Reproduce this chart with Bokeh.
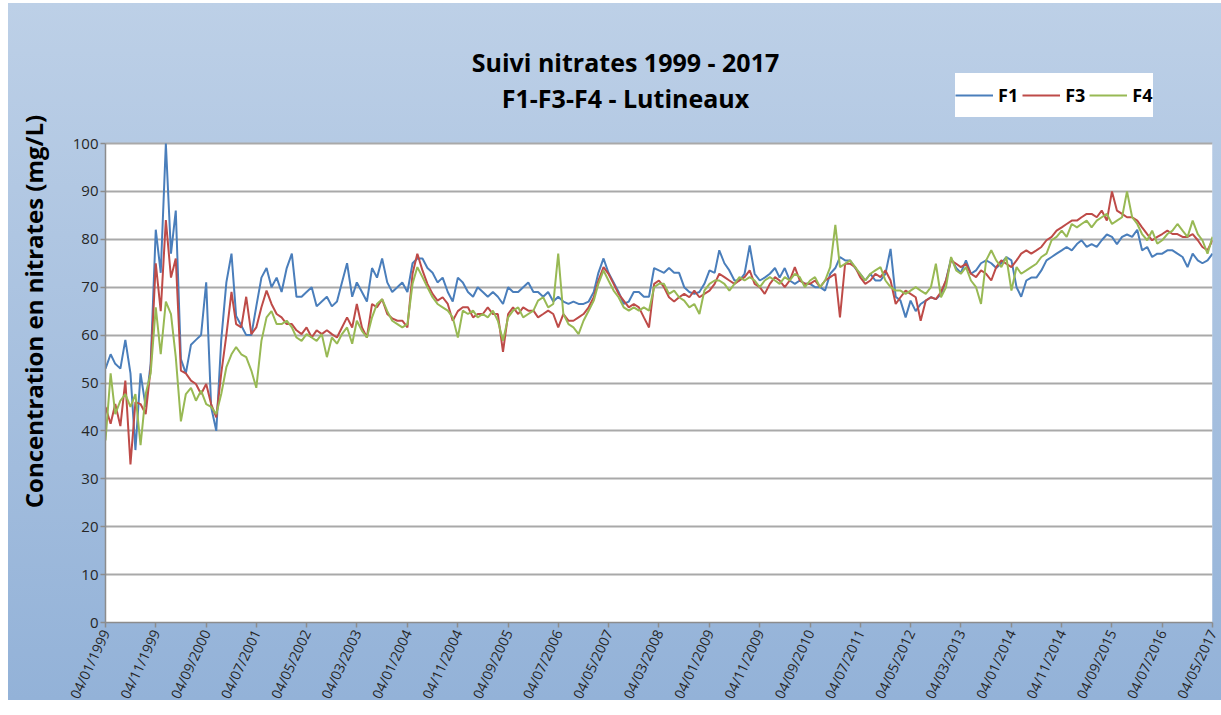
from datetime import datetime

from bokeh.plotting import figure
from bokeh.models import (ColumnDataSource, FixedTicker, DatetimeTickFormatter, Range1d,
                          Label, Legend, LegendItem, BoxAnnotation)
from bokeh.embed import file_html
from bokeh.resources import INLINE

# ---------------- data (monthly readings, Jan 1999 .. May 2017) ----------------
start_month = "04/01/1999"
tick_labels = ["04/01/1999", "04/11/1999", "04/09/2000", "04/07/2001", "04/05/2002",
               "04/03/2003", "04/01/2004", "04/11/2004", "04/09/2005", "04/07/2006",
               "04/05/2007", "04/03/2008", "04/01/2009", "04/11/2009", "04/09/2010",
               "04/07/2011", "04/05/2012", "04/03/2013", "04/01/2014", "04/11/2014",
               "04/09/2015", "04/07/2016", "04/05/2017"]
y_ticks = [0, 10, 20, 30, 40, 50, 60, 70, 80, 90, 100]

f1 = [53, 56, 54, 53, 59, 52, 36, 52, 45, 54, 82, 73,
      100, 77, 86, 55, 52, 58, 59, 60, 71, 45, 40, 59,
      71, 77, 64, 62, 60, 60, 66, 72, 74, 70, 72, 69,
      74, 77, 68, 68, 69, 70, 66, 67, 68, 66, 67, 71,
      75, 68, 71, 69, 67, 74, 72, 76, 71, 69, 70, 71,
      69, 75, 76, 76, 74, 73, 71, 72, 69, 67, 72, 71,
      69, 68, 70, 69, 68, 69, 68, 66.5, 70, 69, 69, 70,
      71, 69, 69, 68, 69, 67, 68, 67, 66.5, 67, 66.5, 66.5,
      67, 69, 73, 76, 73, 71, 69, 66.5, 67, 69, 69, 68,
      68, 74, 73.5, 73, 74, 73, 73, 70, 69, 68.6, 69, 70.7,
      73.5, 73, 77.7, 75, 73.5, 71.4, 71.4, 72.8, 78.7, 72.8, 71.4, 72,
      72.8, 74, 72, 74, 71.4, 70.7, 71.4, 70.7, 70.7, 70, 70, 69.3,
      72.8, 74, 76.3, 75.6, 75.6, 74, 72.8, 71.4, 72.8, 71.4, 71.4, 72.8,
      78, 68, 67.2, 63.7, 67.2, 65, 66.5, 67.2, 67.9, 67.5, 68.5, 71.4,
      76, 74, 73, 75.6, 72.8, 73.5, 75, 75.6, 75, 74, 75, 76.3,
      75.6, 70, 68, 71.4, 72, 72, 73.5, 75.6, 76.3, 77, 77.7, 78.4,
      77.7, 79, 79.8, 78.4, 79, 78.4, 79.8, 81, 80.5, 79, 80.5, 81,
      80.5, 82, 77.7, 78.4, 76.3, 77, 77, 77.7, 77.7, 77, 76.3, 74.2,
      77, 75.6, 75, 75.6, 77]

f3 = [45, 41.5, 45.6, 41, 50.5, 33, 46, 45.6, 43.5, 53, 75, 65,
      84, 72, 76, 52.6, 52, 50.5, 49.8, 47.7, 49.8, 45.6, 42.8, 52,
      60, 69, 62.3, 61.6, 68, 60.2, 61.6, 65.8, 69.3, 66.5, 64.4, 63.7,
      62.3, 62.3, 61, 60.2, 61.6, 59.5, 61, 60.2, 61, 60.2, 59.5, 61.6,
      63.7, 61.6, 66.5, 61.6, 59.5, 66.5, 65.8, 67.5, 64.4, 63.5, 63, 63,
      61.6, 72.8, 77, 73.5, 70.7, 68.6, 67.2, 67.9, 66.5, 63, 65, 65.8,
      65.8, 63.7, 64.4, 64.4, 65.8, 64.4, 64.4, 56.5, 64.4, 65.8, 64.4, 65.8,
      65.1, 65.1, 63.7, 64.4, 65.1, 64.4, 61.6, 64.4, 63, 63, 63.7, 64.4,
      65.8, 67.9, 71.4, 74.2, 72.8, 70.7, 68.6, 67.2, 65.8, 66.5, 65.8, 63.7,
      61.6, 70.7, 71.4, 70, 67.9, 67, 67.9, 68.6, 67.9, 69.3, 67.9, 68.6,
      69.3, 70.7, 72.8, 72.1, 71.4, 70.7, 71.4, 72.1, 73.5, 70.7, 70, 68.6,
      70.7, 72.1, 71.4, 70, 71.4, 74.2, 71.4, 70.7, 70.7, 71.4, 70, 71.4,
      72.1, 72.8, 63.7, 74.9, 74.9, 74.2, 72.1, 70.7, 71.4, 72.8, 72.1, 73.5,
      71.4, 66.5, 67.9, 69.3, 68.6, 67.9, 63, 67.2, 67.9, 67.5, 69, 71.4,
      75.6, 74.9, 74.2, 74.9, 72.8, 72.1, 73.5, 72.8, 71.4, 74.2, 75.6, 74.9,
      74.2, 75.6, 77, 77.7, 77, 77.7, 78.4, 79.8, 80.5, 81.8, 82.5, 83.2,
      83.9, 83.9, 84.6, 85.3, 85.3, 84.6, 86, 83.9, 90, 86, 85.3, 84.6,
      84.6, 83.9, 82.5, 81.1, 79.8, 80.5, 81.1, 81.8, 81.1, 81.1, 80.5, 80.5,
      81.1, 79.8, 78.4, 77.7, 79.8]

f4 = [38, 52, 43.5, 46.3, 47.7, 45, 47.7, 37, 47.7, 52, 65.8, 56,
      67, 64.4, 55.4, 42, 47.7, 49, 46.3, 48.4, 45.6, 45, 43.5, 47.7,
      53.3, 56, 57.5, 56, 55.4, 52.6, 49, 58.8, 63.7, 65, 62.3, 62.3,
      63, 61.6, 59.5, 58.8, 60.2, 59.5, 58.8, 60.2, 55.4, 59.5, 58.2, 60.2,
      61.6, 58.2, 63, 60.9, 59.5, 63.7, 66.5, 67.5, 65, 63, 62.3, 61.6,
      62.3, 70.7, 74.2, 72.1, 70, 67.9, 66.5, 65.8, 65.1, 63.7, 59.5, 65.1,
      64.4, 65.1, 63.7, 64.4, 63.7, 65.1, 63, 58.8, 63.7, 65.1, 65.8, 63.7,
      64.4, 65.1, 67.2, 67.9, 65.8, 66.5, 77, 64.4, 62.3, 61.6, 60.2, 63,
      65.1, 67.2, 70.7, 73.5, 71.4, 69.3, 67.9, 65.8, 65.1, 65.8, 65.1, 65.8,
      65.1, 70, 70.7, 70.7, 68.6, 69.3, 67.9, 67.2, 65.8, 66.5, 64.4, 69.3,
      70.7, 71.4, 71.4, 70.7, 69.3, 70.7, 72.1, 71.4, 72.1, 71.4, 70, 71.4,
      72.1, 71.4, 70.7, 72.1, 71.4, 72.8, 72.1, 70, 71.4, 72.1, 70, 71.4,
      74.2, 83, 74.2, 74.9, 75.6, 74.2, 72.8, 71.4, 72.8, 73.5, 74.2, 71.4,
      70, 69.3, 69.3, 68.6, 69.3, 70, 69.3, 68.6, 70, 74.9, 67.9, 70,
      76.3, 73.5, 72.8, 74.2, 71.4, 70, 66.5, 75.6, 77.7, 75.6, 74.2, 76.3,
      69.3, 74.2, 72.8, 73.5, 74.2, 74.9, 76.3, 77, 79.8, 80.5, 81.8, 80.5,
      83.2, 82.5, 83.2, 83.9, 82.5, 83.9, 84.6, 85.3, 83.2, 83.9, 84.6, 90,
      84.6, 83.2, 81.1, 79.8, 81.8, 79.1, 79.8, 81.1, 81.8, 83.2, 81.8, 80.5,
      83.9, 81.1, 79.8, 77, 80.5]

series_names = ["F1", "F3", "F4"]
series_colors = ["#4a7ebb", "#be4b48", "#98b954"]
title_lines = ["Suivi nitrates 1999 - 2017", "F1-F3-F4 - Lutineaux"]
y_label = "Concentration en nitrates (mg/L)"

# ---------------- build dates (one per month) ----------------
d0 = datetime.strptime(start_month, "%d/%m/%Y")
n = len(f1)
dates = []
for i in range(n):
    mi = d0.month - 1 + i
    dates.append(datetime(d0.year + mi // 12, mi % 12 + 1, d0.day))

src = ColumnDataSource(dict(x=dates, f1=f1, f3=f3[:n], f4=f4[:n]))

epoch = datetime(1970, 1, 1)
tick_ms = [(datetime.strptime(t, "%d/%m/%Y") - epoch).total_seconds() * 1000 for t in tick_labels]

# ---------------- layout constants (pixels) ----------------
W, H = 1221, 712
LEFT, RIGHT = 105, 9          # frame left edge, right border
FRAME_BOTTOM = 622            # y of the value 0 line
PLOT_TOP = 143                # y of the value 100 line
frame_h = FRAME_BOTTOM        # frame starts at the very top of the canvas
y_end = 100.0 * frame_h / (FRAME_BOTTOM - PLOT_TOP)

p = figure(width=W, height=H, x_axis_type="datetime", output_backend="svg",
           toolbar_location=None,
           x_range=Range1d(datetime.strptime(tick_labels[0], "%d/%m/%Y"),
                           datetime.strptime(tick_labels[-1], "%d/%m/%Y")),
           y_range=Range1d(0, y_end),
           min_border_left=LEFT, min_border_right=RIGHT, min_border_top=0,
           min_border_bottom=H - FRAME_BOTTOM)

p.border_fill_color = None
p.background_fill_color = None
p.outline_line_color = None
p.styles = {"background": "linear-gradient(180deg, #bdd0e7 0%, #93b2d8 100%) 8px 3px / 1213px 697px no-repeat, #ffffff"}

# white plotting area (0..100)
p.add_layout(BoxAnnotation(bottom=y_ticks[0], top=y_ticks[-1], fill_color="white", fill_alpha=1.0,
                           line_color=None, level="image"))

# axes
p.xaxis.ticker = FixedTicker(ticks=tick_ms)
fmt = "%d/%m/%Y"
p.xaxis.formatter = DatetimeTickFormatter(milliseconds=fmt, seconds=fmt, minsec=fmt, minutes=fmt,
                                          hourmin=fmt, hours=fmt, days=fmt, months=fmt, years=fmt)
p.xaxis.major_label_orientation = 1.13
p.yaxis.ticker = FixedTicker(ticks=y_ticks)
p.yaxis.bounds = (y_ticks[0], y_ticks[-1])

for ax in (p.xaxis[0], p.yaxis[0]):
    ax.axis_line_color = "#8c8c8c"
    ax.axis_line_width = 1.5
    ax.major_tick_line_color = "#8c8c8c"
    ax.major_tick_line_width = 1.5
    ax.major_tick_in = 0
    ax.major_tick_out = 5
    ax.minor_tick_line_color = None
    ax.major_label_text_font = "Open Sans"
    ax.major_label_text_font_size = "14px"
    ax.major_label_text_color = "#262626"
p.yaxis.major_label_text_font_size = "15px"
p.xaxis.major_label_standoff = 3
p.yaxis.major_label_standoff = 2

p.yaxis.axis_label = y_label
p.yaxis.axis_label_text_font = "Open Sans"
p.yaxis.axis_label_text_font_style = "bold"
p.yaxis.axis_label_text_font_size = "24px"
p.yaxis.axis_label_text_color = "black"
p.yaxis.axis_label_standoff = 20

p.xgrid.grid_line_color = None
p.ygrid.grid_line_color = "#a9a9a9"
p.ygrid.grid_line_width = 1.8

# lines
cols = ["f1", "f3", "f4"]
renderers = []
for c, color in zip(cols, series_colors):
    r = p.line("x", c, source=src, line_color=color, line_width=2)
    renderers.append(r)

legend = Legend(items=[LegendItem(label=nm, renderers=[r]) for nm, r in zip(series_names, renderers)],
                orientation="horizontal", location=(955 - LEFT, FRAME_BOTTOM - 117),
                label_text_font="Open Sans", label_text_font_style="bold",
                label_text_font_size="18px", label_text_color="black",
                glyph_width=38, glyph_height=44, label_height=44, label_standoff=5,
                spacing=4, padding=3, margin=0,
                background_fill_color="white", background_fill_alpha=1.0,
                border_line_color=None)
p.add_layout(legend, "center")

# title (two lines)
for txt, base in zip(title_lines, [61, 97]):
    p.add_layout(Label(x=625 - LEFT, y=FRAME_BOTTOM - base, x_units="screen", y_units="screen",
                       text=txt, text_align="center", text_baseline="alphabetic",
                       text_font="Open Sans", text_font_style="bold", text_font_size="25px",
                       text_color="black"))

open("out.html", "w").write(file_html(p, INLINE))
